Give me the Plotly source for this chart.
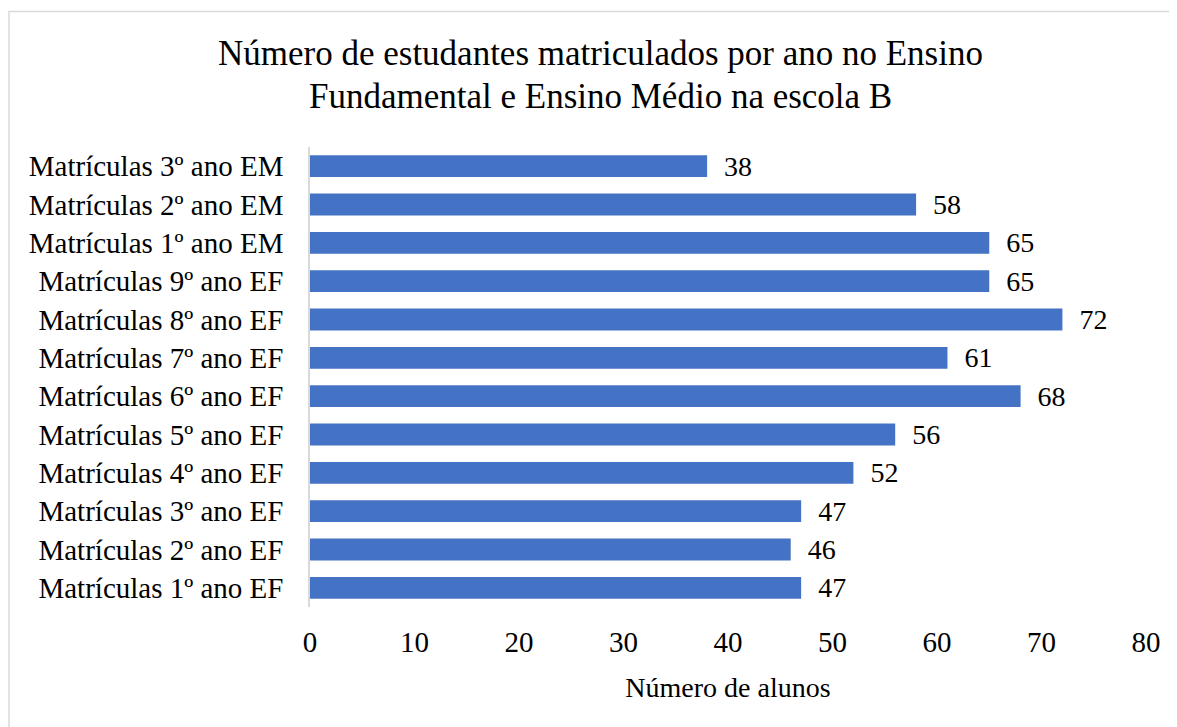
import plotly.graph_objects as go

categories = [
    "Matrículas 1º ano EF", "Matrículas 2º ano EF", "Matrículas 3º ano EF",
    "Matrículas 4º ano EF", "Matrículas 5º ano EF", "Matrículas 6º ano EF",
    "Matrículas 7º ano EF", "Matrículas 8º ano EF", "Matrículas 9º ano EF",
    "Matrículas 1º ano EM", "Matrículas 2º ano EM", "Matrículas 3º ano EM",
]
values = [47, 46, 47, 52, 56, 68, 61, 72, 65, 65, 58, 38]
x_ticks = [0, 10, 20, 30, 40, 50, 60, 70, 80]
title_lines = [
    "Número de estudantes matriculados por ano no Ensino",
    "Fundamental e Ensino Médio na escola B",
]

FONT = "Liberation Serif, Times New Roman, serif"
L, R, T, B = 302, 39, 139, 128
W, H = 1177, 727
PW, PH = W - L - R, H - T - B

fig = go.Figure(go.Bar(
    x=values, y=categories, orientation="h",
    marker=dict(color="#4472C4", line=dict(width=0)),
    text=[str(v) for v in values],
    texttemplate="\u00a0\u00a0%{text}",
    textposition="outside", constraintext="none",
    textfont=dict(family=FONT, size=28, color="#000000"),
    cliponaxis=False,
))

annotations = []
for i, line in enumerate(title_lines):
    yc = 46 + 42 * i
    annotations.append(dict(
        text=line, xref="paper", yref="paper",
        x=(592 - L) / PW, y=1 + (T - yc) / PH,
        xanchor="center", yanchor="middle", showarrow=False,
        font=dict(family=FONT, size=35, color="#000000"),
    ))

fig.update_layout(
    width=W, height=H,
    paper_bgcolor="white", plot_bgcolor="white",
    margin=dict(l=L, r=R, t=T, b=B),
    bargap=0.43,
    font=dict(family=FONT, size=28, color="#000000"),
    showlegend=False,
    annotations=annotations,
    xaxis=dict(
        range=[0, 80], tickvals=x_ticks, showgrid=False, zeroline=False,
        showline=False, ticks="", ticklabelstandoff=15,
        tickfont=dict(family=FONT, size=29, color="#000000"),
        title=dict(text="Número de alunos", standoff=20,
                   font=dict(family=FONT, size=28, color="#000000")),
    ),
    yaxis=dict(
        categoryorder="array", categoryarray=categories,
        showgrid=False, zeroline=False, showline=True, linecolor="#d9d9d9",
        linewidth=1.5, ticks="", ticklabelstandoff=19,
        tickfont=dict(family=FONT, size=29, color="#000000"),
    ),
    shapes=[dict(
        type="rect", xref="paper", yref="paper",
        x0=(1 - L) / PW, x1=1.2, y0=-0.6, y1=1 + (T - 3.5) / PH,
        line=dict(color="#d9d9d9", width=1.5), fillcolor="rgba(0,0,0,0)",
        layer="below",
    )],
)

fig.write_html("out.html")
